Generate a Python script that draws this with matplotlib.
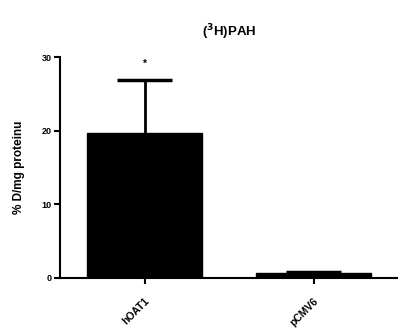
import matplotlib.pyplot as plt
import numpy as np

plt.rcParams["font.family"] = ["Liberation Sans", "DejaVu Sans"]
plt.rcParams["font.weight"] = "bold"

categories = ["hOAT1", "pCMV6"]
values = [19.7, 0.65]
errors = [7.2, 0.2]
signif = ["*", ""]

fig = plt.figure(figsize=(3.98, 3.34), dpi=100)
ax = fig.add_axes([0.151, 0.168, 0.849, 0.661])

x = np.arange(len(categories))
ax.bar(x, values, width=0.68, color="black", edgecolor="black", linewidth=1)

# upper-only error bars, cap only at the top
tops = np.array(values) + np.array(errors)
ax.vlines(x, values, tops, color="black", linewidth=2)
ax.hlines(tops, x - 0.165, x + 0.165, color="black", linewidth=2.5)

for xi, t, s in zip(x, tops, signif):
    if s:
        ax.annotate(s, (xi, t), xytext=(0, 8), textcoords="offset points",
                    ha="center", va="bottom", fontsize=7, fontweight="bold")

ax.set_xlim(-0.5, 1.5)
ax.set_ylim(0, 30)
ax.set_yticks([0, 10, 20, 30])
ax.set_xticks(x)
ax.set_xticklabels(categories, rotation=45, ha="right", rotation_mode="anchor",
                   fontsize=7.5, fontweight="bold")
ax.tick_params(axis="y", labelsize=6.5, width=1.5, length=4, pad=2)
ax.tick_params(axis="x", width=1.5, length=4, pad=9)
for lbl in ax.get_yticklabels():
    lbl.set_fontweight("bold")

for side in ["top", "right"]:
    ax.spines[side].set_visible(False)
for side in ["left", "bottom"]:
    ax.spines[side].set_linewidth(1.5)

ax.set_ylabel("% D/mg proteinu", fontsize=8.5, fontweight="bold", labelpad=12)
ax.set_title("($^3$H)PAH", fontsize=9.5, fontweight="bold", pad=15)

fig.savefig("out.png", dpi=100)
